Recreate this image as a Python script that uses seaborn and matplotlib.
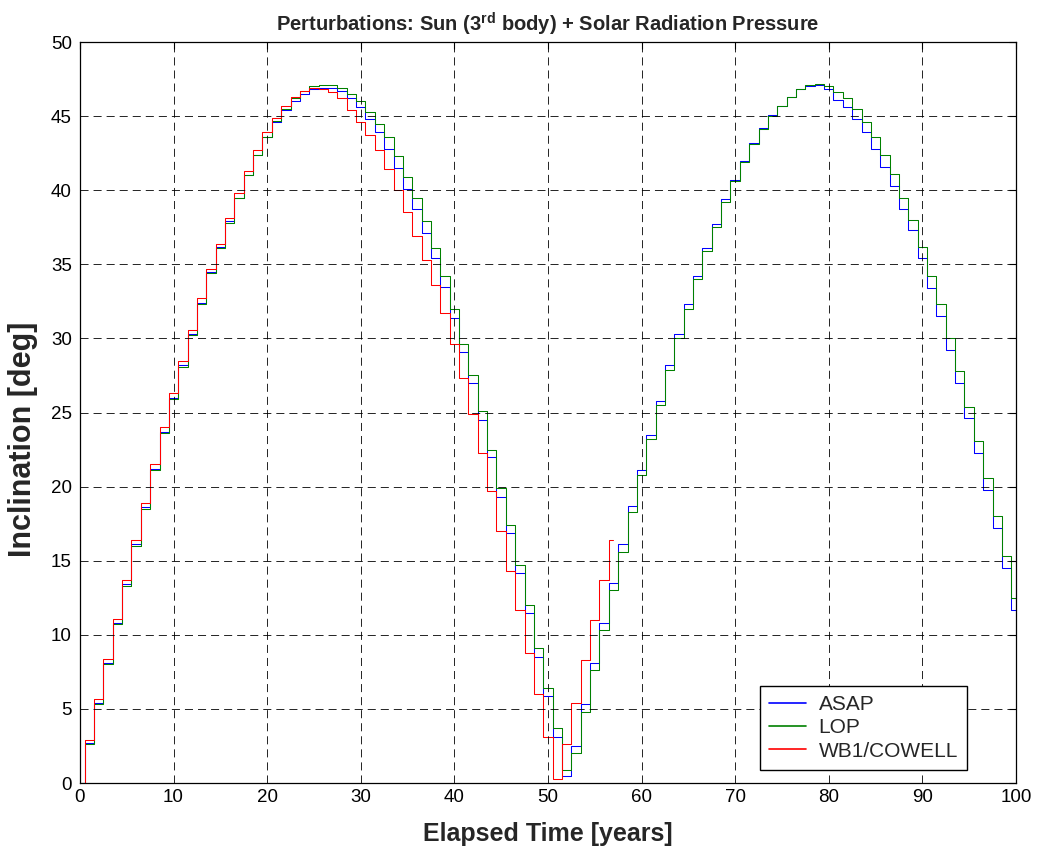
import numpy as np
import pandas as pd
import matplotlib
matplotlib.use("Agg")
import matplotlib.pyplot as plt
import seaborn as sns
from matplotlib.lines import Line2D

# ---------------- data ----------------
series_names = ["ASAP", "LOP", "WB1/COWELL"]
series_colors = ["#0000FF", "#008000", "#FF0000"]

years_asap = list(range(0, 101))
asap = [0.0, 2.7, 5.4, 8.1, 10.8, 13.4, 16.1, 18.6, 21.2, 23.7,
        26.0, 28.2, 30.3, 32.4, 34.5, 36.2, 37.9, 39.5, 41.0, 42.4,
        43.6, 44.6, 45.4, 46.0, 46.5, 46.8, 46.9, 46.9, 46.7, 46.2,
        45.6, 44.8, 43.9, 42.8, 41.5, 40.1, 38.7, 37.1, 35.4, 33.5,
        31.4, 29.1, 27.0, 24.5, 22.0, 19.3, 16.9, 14.2, 11.5, 8.5,
        5.9, 3.1, 0.5, 2.5, 5.3, 8.1, 10.8, 13.5, 16.1, 18.7,
        21.1, 23.5, 25.8, 28.2, 30.3, 32.3, 34.2, 36.1, 37.7, 39.4,
        40.7, 42.0, 43.2, 44.2, 45.1, 45.7, 46.3, 46.8, 47.0, 47.1,
        46.8, 46.1, 45.6, 44.8, 43.9, 42.8, 41.6, 40.3, 38.7, 37.3,
        35.4, 33.4, 31.5, 29.2, 27.0, 24.6, 22.3, 19.8, 17.2, 14.5,
        11.7]

years_lop = list(range(0, 101))
lop = [0.0, 2.6, 5.3, 8.0, 10.7, 13.3, 16.0, 18.5, 21.1, 23.6,
       25.9, 28.1, 30.2, 32.3, 34.4, 36.1, 37.8, 39.5, 41.0, 42.4,
       43.6, 44.7, 45.5, 46.2, 46.7, 47.0, 47.1, 47.1, 46.9, 46.5,
       46.0, 45.3, 44.5, 43.6, 42.3, 40.9, 39.5, 37.9, 36.1, 34.2,
       32.0, 29.6, 27.5, 25.1, 22.5, 19.9, 17.4, 14.7, 12.0, 9.1,
       6.4, 3.7, 0.9, 2.0, 4.8, 7.6, 10.3, 13.0, 15.6, 18.3,
       20.8, 23.2, 25.5, 27.9, 30.0, 32.0, 34.0, 35.9, 37.5, 39.2,
       40.6, 41.9, 43.1, 44.1, 45.0, 45.7, 46.3, 46.8, 47.1, 47.2,
       47.0, 46.6, 46.2, 45.5, 44.6, 43.6, 42.4, 41.1, 39.5, 38.0,
       36.2, 34.2, 32.3, 30.0, 27.8, 25.4, 23.1, 20.6, 18.0, 15.3,
       12.5]

years_cowell = list(range(0, 58))
cowell = [0.0, 2.9, 5.7, 8.4, 11.1, 13.7, 16.4, 18.9, 21.5, 24.0,
          26.3, 28.5, 30.6, 32.7, 34.7, 36.4, 38.1, 39.8, 41.3, 42.7,
          43.9, 44.9, 45.7, 46.3, 46.7, 46.9, 46.8, 46.6, 46.2, 45.4,
          44.6, 43.7, 42.7, 41.4, 40.0, 38.5, 36.9, 35.3, 33.6, 31.7,
          29.6, 27.3, 24.9, 22.3, 19.7, 17.0, 14.3, 11.7, 8.8, 6.0,
          3.1, 0.3, 2.6, 5.4, 8.3, 11.0, 13.7, 16.4]

x_ticks = list(range(0, 101, 10))
y_ticks = list(range(0, 51, 5))

# ---------------- styling ----------------
sns.set_theme(style="white")
plt.rcParams["font.family"] = ["Liberation Sans", "DejaVu Sans"]
plt.rcParams["mathtext.fontset"] = "custom"
plt.rcParams["mathtext.rm"] = "Liberation Sans"
plt.rcParams["mathtext.bf"] = "Liberation Sans:bold"
plt.rcParams["lines.scale_dashes"] = False

df = pd.concat([
    pd.DataFrame({"t": years_asap, "v": asap, "series": series_names[0]}),
    pd.DataFrame({"t": years_lop, "v": lop, "series": series_names[1]}),
    pd.DataFrame({"t": years_cowell, "v": cowell, "series": series_names[2]}),
], ignore_index=True)

fig = plt.figure(figsize=(10.37, 8.51), dpi=100)
ax = fig.add_axes([0.0771, 0.0799, 0.9026, 0.8707])

palette = dict(zip(series_names, series_colors))
sns.lineplot(data=df, x="t", y="v", hue="series", hue_order=series_names,
             palette=palette, estimator=None, sort=False,
             drawstyle="steps-mid", linewidth=0.75, legend=False, ax=ax)

ax.set_xlim(0, 100)
ax.set_ylim(0, 50)
ax.set_xticks(x_ticks)
ax.set_yticks(y_ticks)
ax.set_xticklabels([str(v) for v in x_ticks])
ax.set_yticklabels([str(v) for v in y_ticks])
ax.grid(True, color="black", linestyle=(0, (5.8, 3.6)), linewidth=0.6)
ax.set_axisbelow(False)
ax.tick_params(direction="in", length=5, width=0.8, top=True, right=True,
               labelsize=13.5, colors="black")
ax.tick_params(axis="x", pad=4.6)
ax.tick_params(axis="y", pad=5.8)
for s in ax.spines.values():
    s.set_color("black")
    s.set_linewidth(0.9)

ax.set_title(r"Perturbations: Sun (3$^{\bf{rd}}$ body) + Solar Radiation Pressure",
             fontsize=14.5, fontweight="bold", pad=7.5)
ax.set_xlabel("Elapsed Time [years]", fontsize=18, fontweight="bold")
ax.set_ylabel("Inclination [deg]", fontsize=22, fontweight="bold")
ax.xaxis.set_label_coords(0.5, -0.053)
ax.yaxis.set_label_coords(-0.045, 0.464)

handles = [Line2D([0], [0], color=c, lw=1.2) for c in series_colors]
leg = ax.legend(handles, series_names, loc="lower right",
                bbox_to_anchor=(0.948, 0.0175), borderaxespad=0,
                fontsize=15, frameon=True, fancybox=False, framealpha=1,
                edgecolor="black", borderpad=0.45, labelspacing=0.2,
                handlelength=1.75, handletextpad=0.62)
leg.get_frame().set_linewidth(1.0)

fig.savefig("out.png", dpi=100)
